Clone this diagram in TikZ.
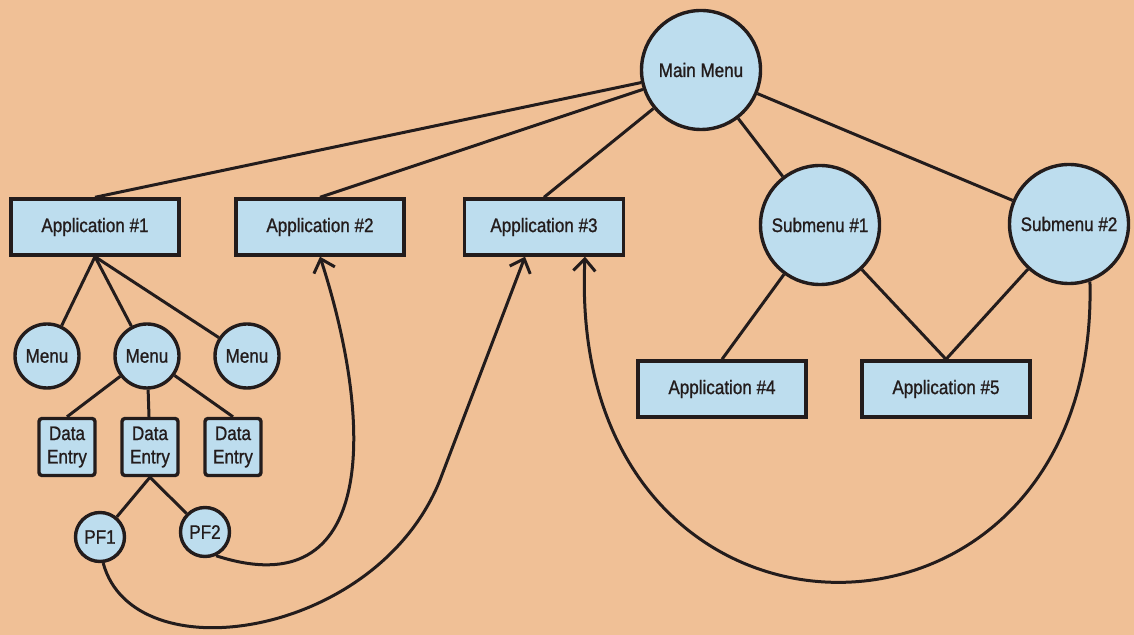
\documentclass[tikz,border=0pt]{standalone}
\usepackage{fontspec}
\setmainfont{Liberation Sans}[FakeStretch=0.87, FakeBold=1]
\usetikzlibrary{calc, arrows.meta}
\definecolor{paper}{RGB}{240, 192, 150}
\definecolor{boxfill}{RGB}{189, 221, 238}
\definecolor{ink}{RGB}{35, 28, 28}

\begin{document}
\begin{tikzpicture}[x=0.5pt, y=-0.5pt, >={Straight Barb[length=6pt, width=11pt]},
  font=\fontsize{9.8}{11.7}\selectfont,
  box/.style={draw=ink, line width=1.7pt, fill=boxfill, text=ink, inner sep=0pt},
  appbox/.style={box, minimum width=84pt, minimum height=28pt},
  debox/.style={box, rounded corners=1.5pt, minimum width=28pt, minimum height=28.5pt, align=center},
  bigcirc/.style={box, circle, minimum size=59.5pt},
  menucirc/.style={box, circle, minimum size=32pt},
  pfcirc/.style={box, circle, minimum size=24.5pt},
  conn/.style={draw=ink, line width=1.5pt},
  jump/.style={conn, ->}]
  \useasboundingbox (0,0) rectangle (1134,635);
  \fill[paper] (0,0) rectangle (1134,635);

  % top level
  \node[bigcirc] (mm) at (701,70) {Main Menu};
  \node[appbox] (ap1) at (95,227) {Application \#1};
  \node[appbox] (ap2) at (320,227) {Application \#2};
  \node[appbox, minimum width=79.5pt] (ap3) at (544,227) {Application \#3};
  \node[bigcirc] (sm1) at (820,225) {Submenu \#1};
  \node[bigcirc] (sm2) at (1069,224) {Submenu \#2};
  \node[appbox] (ap4) at (722,389) {Application \#4};
  \node[appbox] (ap5) at (946,389) {Application \#5};
  \draw[conn] (mm) -- (ap1.north);
  \draw[conn] (mm) -- (ap2.north);
  \draw[conn] (mm) -- (ap3.north);
  \draw[conn] (mm) -- (sm1);
  \draw[conn] (mm) -- (sm2);
  \draw[conn] (sm1) -- (ap4.north);
  \draw[conn] (sm1) -- (ap5.north);
  \draw[conn] (sm2) -- (ap5.north);

  % inside application 1
  \node[menucirc] (mn1) at (47,356) {Menu};
  \node[menucirc] (mn2) at (147,356) {Menu};
  \node[menucirc] (mn3) at (247,356) {Menu};
  \node[debox] (de1) at (67,447) {Data\\Entry};
  \node[debox] (de2) at (150,447) {Data\\Entry};
  \node[debox] (de3) at (233,447) {Data\\Entry};
  \node[pfcirc] (pf1) at (100,537) {PF1};
  \node[pfcirc] (pf2) at (205,532) {PF2};
  \draw[conn] (ap1.south) -- (mn1);
  \draw[conn] (ap1.south) -- (mn2);
  \draw[conn] (ap1.south) -- (mn3);
  \draw[conn] (mn2) -- (de1.north);
  \draw[conn] (mn2) -- (de2);
  \draw[conn] (mn2) -- (de3.north);
  \draw[conn] (de2.south) -- (pf1);
  \draw[conn] (de2.south) -- (pf2);

  % jumps back up
  \coordinate (pf1bend) at (440,480);
  \draw[jump] (pf2.-65) .. controls +(160,52) and +(55,170) .. (ap2.south);
  \draw[jump] (pf1.-83) .. controls +(30,112) and +(-63,158) .. (pf1bend)
    -- ($(ap3.south)+(-19,0)$);
  \draw[jump] (sm2.-70) .. controls +(10,404) and +(-20,430) .. ($(ap3.south)+(41,0)$);
\end{tikzpicture}
\end{document}
